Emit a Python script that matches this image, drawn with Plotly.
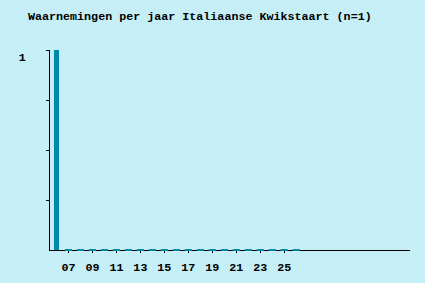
import plotly.graph_objects as go

years = list(range(2006, 2027))
counts = [1] + [0] * 20
tick_years = list(range(2007, 2027, 2))
tick_labels = [f"{y % 100:02d}" for y in tick_years]
y_ticks = [0.25, 0.5, 0.75, 1]
y_labels = ["", "", "", "1"]
title = "Waarnemingen per jaar Italiaanse Kwikstaart (n=1)"

BG = "rgb(198,238,247)"
BAR = "rgb(0,136,170)"
FONT = "Liberation Mono"

zero_years = [y for y, c in zip(years, counts) if c == 0]
zero_vals = [c for c in counts if c == 0]

fig = go.Figure()
fig.add_trace(
    go.Bar(
        x=years,
        y=counts,
        width=0.42,
        marker=dict(color=BAR, line=dict(width=0)),
        hoverinfo="skip",
    )
)
# zero-count years drawn as small stubs on the baseline
fig.add_trace(
    go.Scatter(
        x=zero_years,
        y=zero_vals,
        mode="markers",
        marker=dict(symbol="line-ew", size=5, line=dict(color=BAR, width=2)),
        hoverinfo="skip",
        cliponaxis=False,
    )
)

fig.update_layout(
    width=425,
    height=283,
    paper_bgcolor=BG,
    plot_bgcolor=BG,
    margin=dict(l=50, r=14.5, t=50, b=33, autoexpand=False),
    showlegend=False,
    title=dict(
        text=title,
        x=28 / 425,
        xanchor="left",
        y=1 - 16 / 283,
        yanchor="middle",
        font=dict(family=FONT, size=11.7, color="black", weight="bold"),
    ),
    font=dict(family=FONT, size=11.7, color="black", weight="bold"),
)

fig.update_xaxes(
    range=[2005.458, 2035.5],
    tickvals=tick_years,
    ticktext=tick_labels,
    ticks="outside",
    ticklen=2,
    tickcolor="black",
    ticklabelstandoff=4,
    showline=True,
    linecolor="black",
    linewidth=1,
    showgrid=False,
    zeroline=False,
    automargin=False,
    layer="below traces",
    tickfont=dict(family=FONT, size=11.7, color="black", weight="bold"),
)

fig.update_yaxes(
    range=[0, 1],
    tickvals=y_ticks,
    ticktext=y_labels,
    ticks="outside",
    ticklen=3,
    tickcolor="black",
    ticklabelstandoff=18,
    ticklabelshift=7,
    showline=True,
    linecolor="black",
    linewidth=1,
    showgrid=False,
    zeroline=False,
    automargin=False,
    layer="below traces",
    tickfont=dict(family=FONT, size=11.7, color="black", weight="bold"),
)

fig.write_html("out.html")
